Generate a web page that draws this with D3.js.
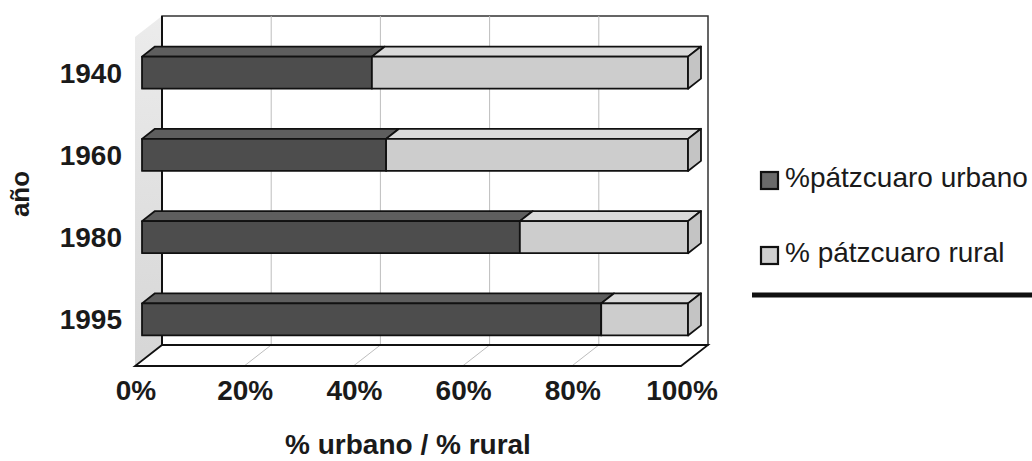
<!DOCTYPE html>
<html>
<head>
<meta charset="utf-8">
<script src="https://cdn.jsdelivr.net/npm/d3@7"></script>
<style>
  html, body { margin: 0; padding: 0; background: #fff; }
  svg { display: block; font-family: Arial, "Liberation Sans", sans-serif; }
</style>
</head>
<body>
<svg id="chart" width="1032" height="461"></svg>
<script>
// Población de Pátzcuaro: porcentaje urbano / rural por año
const years = ["1940", "1960", "1980", "1995"];
const urbano = [42.1, 44.7, 69.2, 84.1];
const rural = [57.9, 55.3, 30.8, 15.9];
const seriesNames = ["%pátzcuaro urbano", "% pátzcuaro rural"];
const tickValues = [0, 20, 40, 60, 80, 100];
const xTitle = "% urbano / % rural";
const yTitle = "año";

const svg = d3.select("#chart");

// front plane of the 3-D box and the depth offset towards the back wall
const frontLeft = 135, frontRight = 681, frontTop = 37, frontBottom = 366;
const depthX = 27, depthY = -21;
const barD0 = 0.26, barD1 = 0.74;

const x = d3.scaleLinear().domain([0, 100]).range([frontLeft, frontRight]);
const y = d3.scaleBand().domain(years).range([frontTop, frontBottom])
  .paddingInner(0.61).paddingOuter(0.305);

const P = (v, yy, d) => [x(v) + depthX * d, yy + depthY * d];
const poly = pts => "M" + pts.map(p => p.join(",")).join("L") + "Z";

const colors = {
  urbFront: "#4d4d4d", urbTop: "#5e5e5e",
  rurFront: "#cdcdcd", rurTop: "#dadada", rurEnd: "#c4c4c4"
};

// left side wall, lighter towards the top
const defs = svg.append("defs");
const wallGrad = defs.append("linearGradient").attr("id", "wallGrad")
  .attr("x1", 0).attr("y1", 0).attr("x2", 0).attr("y2", 1);
wallGrad.append("stop").attr("offset", "0%").attr("stop-color", "#ececec");
wallGrad.append("stop").attr("offset", "100%").attr("stop-color", "#d6d6d6");

svg.append("path")
  .attr("d", poly([P(0, frontTop, 1), P(0, frontTop, 0), P(0, frontBottom, 0), P(0, frontBottom, 1)]))
  .attr("fill", "url(#wallGrad)").attr("stroke", "none");

// back wall
svg.append("path")
  .attr("d", poly([P(0, frontTop, 1), P(100, frontTop, 1), P(100, frontBottom, 1), P(0, frontBottom, 1)]))
  .attr("fill", "#fff").attr("stroke", "#333").attr("stroke-width", 1.5);

// gridlines on back wall and floor
const grid = svg.append("g").attr("stroke", "#bdbdbd").attr("stroke-width", 1);
tickValues.slice(1, -1).forEach(t => {
  grid.append("line")
    .attr("x1", P(t, frontTop, 1)[0]).attr("y1", P(t, frontTop, 1)[1])
    .attr("x2", P(t, frontBottom, 1)[0]).attr("y2", P(t, frontBottom, 1)[1]);
  grid.append("line")
    .attr("x1", P(t, frontBottom, 1)[0]).attr("y1", P(t, frontBottom, 1)[1])
    .attr("x2", P(t, frontBottom, 0)[0]).attr("y2", P(t, frontBottom, 0)[1]);
});

// floor
svg.append("path")
  .attr("d", poly([P(0, frontBottom, 1), P(100, frontBottom, 1), P(100, frontBottom, 0), P(0, frontBottom, 0)]))
  .attr("fill", "none").attr("stroke", "#111").attr("stroke-width", 1.8);

// left wall edge
svg.append("line")
  .attr("x1", P(0, frontTop, 1)[0]).attr("y1", P(0, frontTop, 1)[1])
  .attr("x2", P(0, frontBottom, 1)[0]).attr("y2", P(0, frontBottom, 1)[1])
  .attr("stroke", "#111").attr("stroke-width", 2);

// stacked 3-D bars
const bars = svg.append("g").attr("stroke", "#111").attr("stroke-width", 1.8)
  .attr("stroke-linejoin", "round");
years.forEach((yr, i) => {
  const top = y(yr), bot = y(yr) + y.bandwidth();
  const segs = [
    { a: 0, b: urbano[i], front: colors.urbFront, topc: colors.urbTop },
    { a: urbano[i], b: urbano[i] + rural[i], front: colors.rurFront, topc: colors.rurTop }
  ];
  segs.forEach(s => {
    bars.append("path")
      .attr("d", poly([P(s.a, top, barD1), P(s.b, top, barD1), P(s.b, top, barD0), P(s.a, top, barD0)]))
      .attr("fill", s.topc);
    bars.append("path")
      .attr("d", poly([P(s.a, top, barD0), P(s.b, top, barD0), P(s.b, bot, barD0), P(s.a, bot, barD0)]))
      .attr("fill", s.front);
  });
  const end = urbano[i] + rural[i];
  bars.append("path")
    .attr("d", poly([P(end, top, barD0), P(end, top, barD1), P(end, bot, barD1), P(end, bot, barD0)]))
    .attr("fill", colors.rurEnd);
});

// year labels
svg.append("g").selectAll("text").data(years).join("text")
  .attr("x", 122)
  .attr("y", d => y(d) + y.bandwidth() / 2 + depthY * barD0)
  .attr("dy", "0.36em")
  .attr("text-anchor", "end")
  .attr("font-size", 28).attr("font-weight", "bold").attr("fill", "#1a1a1a")
  .text(d => d);

// x tick labels along the front edge of the floor
svg.append("g").selectAll("text").data(tickValues).join("text")
  .attr("x", d => x(d) + 1)
  .attr("y", 400)
  .attr("text-anchor", "middle")
  .attr("font-size", 28).attr("font-weight", "bold").attr("fill", "#1a1a1a")
  .text(d => d + "%");

// axis titles
svg.append("text")
  .attr("x", 408).attr("y", 454)
  .attr("text-anchor", "middle")
  .attr("font-size", 28).attr("font-weight", "bold").attr("fill", "#1a1a1a")
  .text(xTitle);

svg.append("text")
  .attr("transform", "translate(29,194) rotate(-90)")
  .attr("text-anchor", "middle")
  .attr("font-size", 26).attr("font-weight", "bold").attr("fill", "#1a1a1a")
  .text(yTitle);

// legend
const legend = svg.append("g");
const legendY = [172, 247];
seriesNames.forEach((name, i) => {
  legend.append("rect")
    .attr("x", 761).attr("y", legendY[i]).attr("width", 17).attr("height", 17)
    .attr("fill", i === 0 ? "#6a6a6a" : "#cfcfcf")
    .attr("stroke", "#111").attr("stroke-width", 2.2);
  legend.append("text")
    .attr("x", 785).attr("y", legendY[i] + 15)
    .attr("font-size", 28).attr("fill", "#1a1a1a")
    .text(name);
});
legend.append("line")
  .attr("x1", 752).attr("x2", 1032).attr("y1", 295).attr("y2", 295)
  .attr("stroke", "#111").attr("stroke-width", 5);
</script>
</body>
</html>
